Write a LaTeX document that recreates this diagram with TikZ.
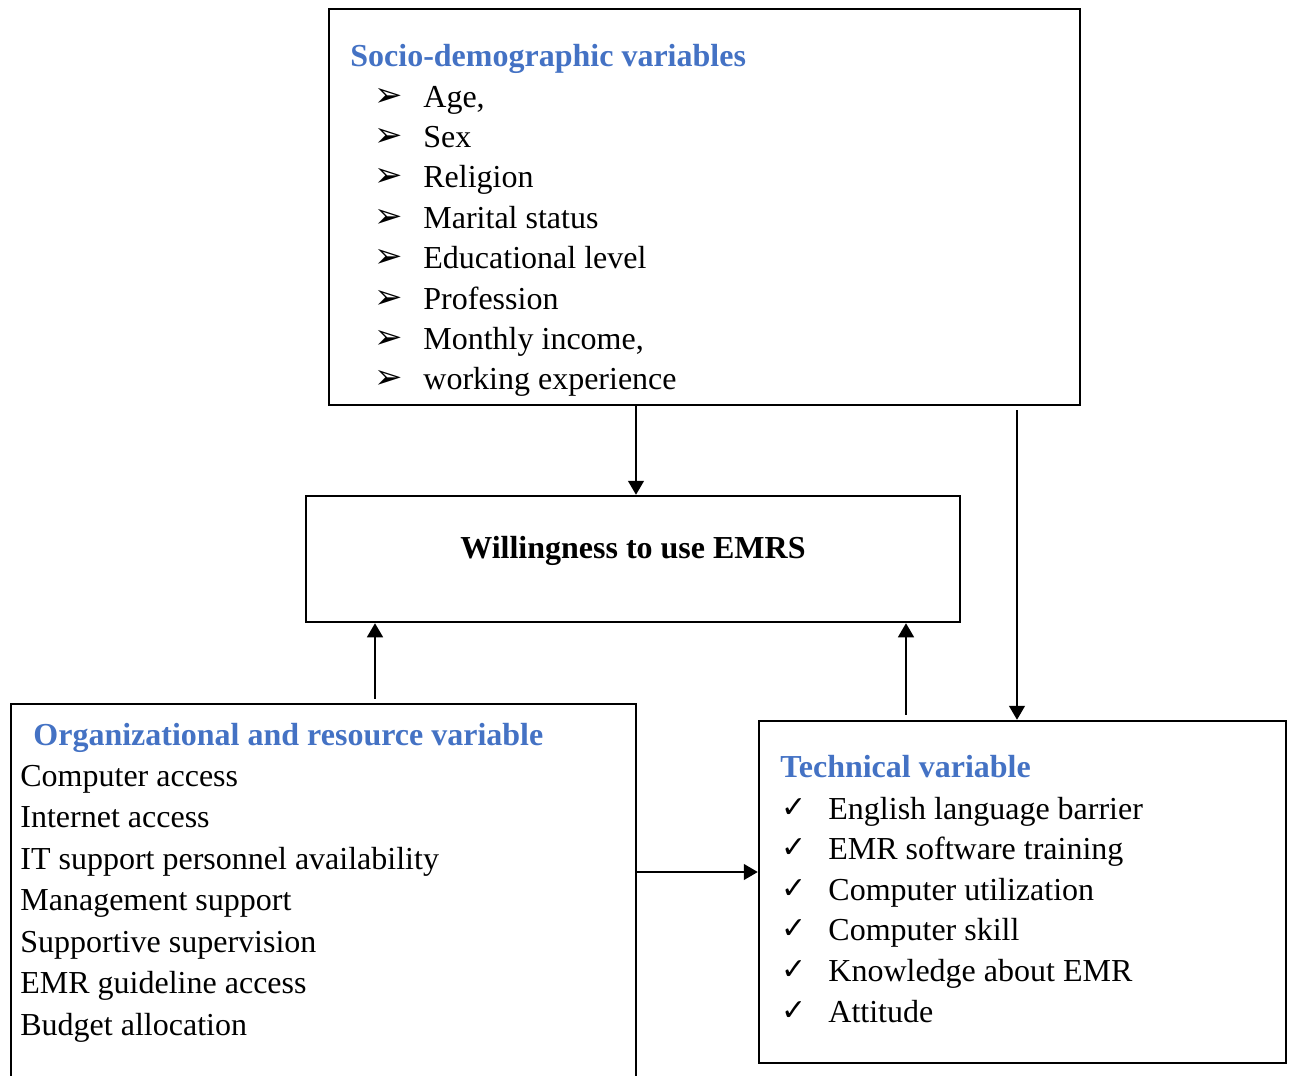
\documentclass[tikz,border=0pt]{standalone}
\usepackage{fontspec}
\setmainfont{Liberation Serif}
\newfontfamily\symfont{DejaVu Sans}
\usetikzlibrary{arrows.meta,fit}
\definecolor{headBlue}{RGB}{68,114,196}

\begin{document}
\begin{tikzpicture}[x=0.5pt, y=-0.5pt,
  every node/.style={font=\fontsize{16}{19}\selectfont, inner sep=0pt},
  box/.style={draw, line width=1.25pt, inner sep=0pt},
  head/.style={anchor=base west, text=headBlue, font=\fontsize{16}{19}\selectfont\bfseries},
  item/.style={anchor=base west},
  conn/.style={line width=0.7pt, -{Triangle[length=7pt, width=8pt]}}]
  \useasboundingbox (0,0) rectangle (1292,1076);
  \clip (0,0) rectangle (1292,1076);
  % ---------------- boxes ----------------
  \node[box, fit={(329,9) (1080,405)}] (socio) {};
  \node[box, fit={(306,496) (960,622)}] (willing) {};
  \node[box, fit={(11,704) (636,1110)}] (org) {};
  \node[box, fit={(759,721) (1286,1063)}] (tech) {};
  % ---------------- socio-demographic ----------------
  \node[head] (sociohead) at (350,66) {Socio-demographic variables};
  \foreach \txt [count=\i from 0] in {Age{,}, Sex, Religion, Marital status,
      Educational level, Profession, Monthly income{,}, working experience} {
    \node[item] (sb\i) at (374,106+40.4*\i) {\symfont\fontsize{17}{19}\selectfont\bfseries ➢};
    \node[item] (si\i) at (423,107+40.4*\i) {\txt};
  }
  % ---------------- willingness ----------------
  \node[font=\fontsize{16}{19}\selectfont\bfseries] (willtext) at (633,551) {Willingness to use EMRS};
  % ---------------- organizational ----------------
  \node[head] (orghead) at (33,745) {Organizational and resource variable};
  \foreach \txt [count=\i from 0] in {Computer access, Internet access,
      IT support personnel availability, Management support,
      Supportive supervision, EMR guideline access, Budget allocation} {
    \node[item] (oi\i) at (20,786+41.5*\i) {\txt};
  }
  % ---------------- technical ----------------
  \node[head] (techhead) at (780,777) {Technical variable};
  \foreach \txt [count=\i from 0] in {English language barrier, EMR software training,
      Computer utilization, Computer skill, Knowledge about EMR, Attitude} {
    \node[item] (tb\i) at (781,817+40.6*\i) {\symfont\fontsize{15}{18}\selectfont ✓};
    \node[item] (ti\i) at (828,819+40.6*\i) {\txt};
  }
  % ---------------- connectors ----------------
  \coordinate (c1) at (636,0);
  \coordinate (c2) at (1017,0);
  \coordinate (c3) at (375,0);
  \coordinate (c4) at (906,0);
  \coordinate (c5) at (0,872);
  \draw[conn] (socio.south -| c1) -- (willing.north -| c1);
  \draw[conn] ([yshift=-2pt]socio.south -| c2) -- (tech.north -| c2);
  \draw[conn] ([yshift=2pt]org.north -| c3) -- (willing.south -| c3);
  \draw[conn] ([yshift=2.5pt]tech.north -| c4) -- (willing.south -| c4);
  \draw[conn] (org.east |- c5) -- (tech.west |- c5);
\end{tikzpicture}
\end{document}
